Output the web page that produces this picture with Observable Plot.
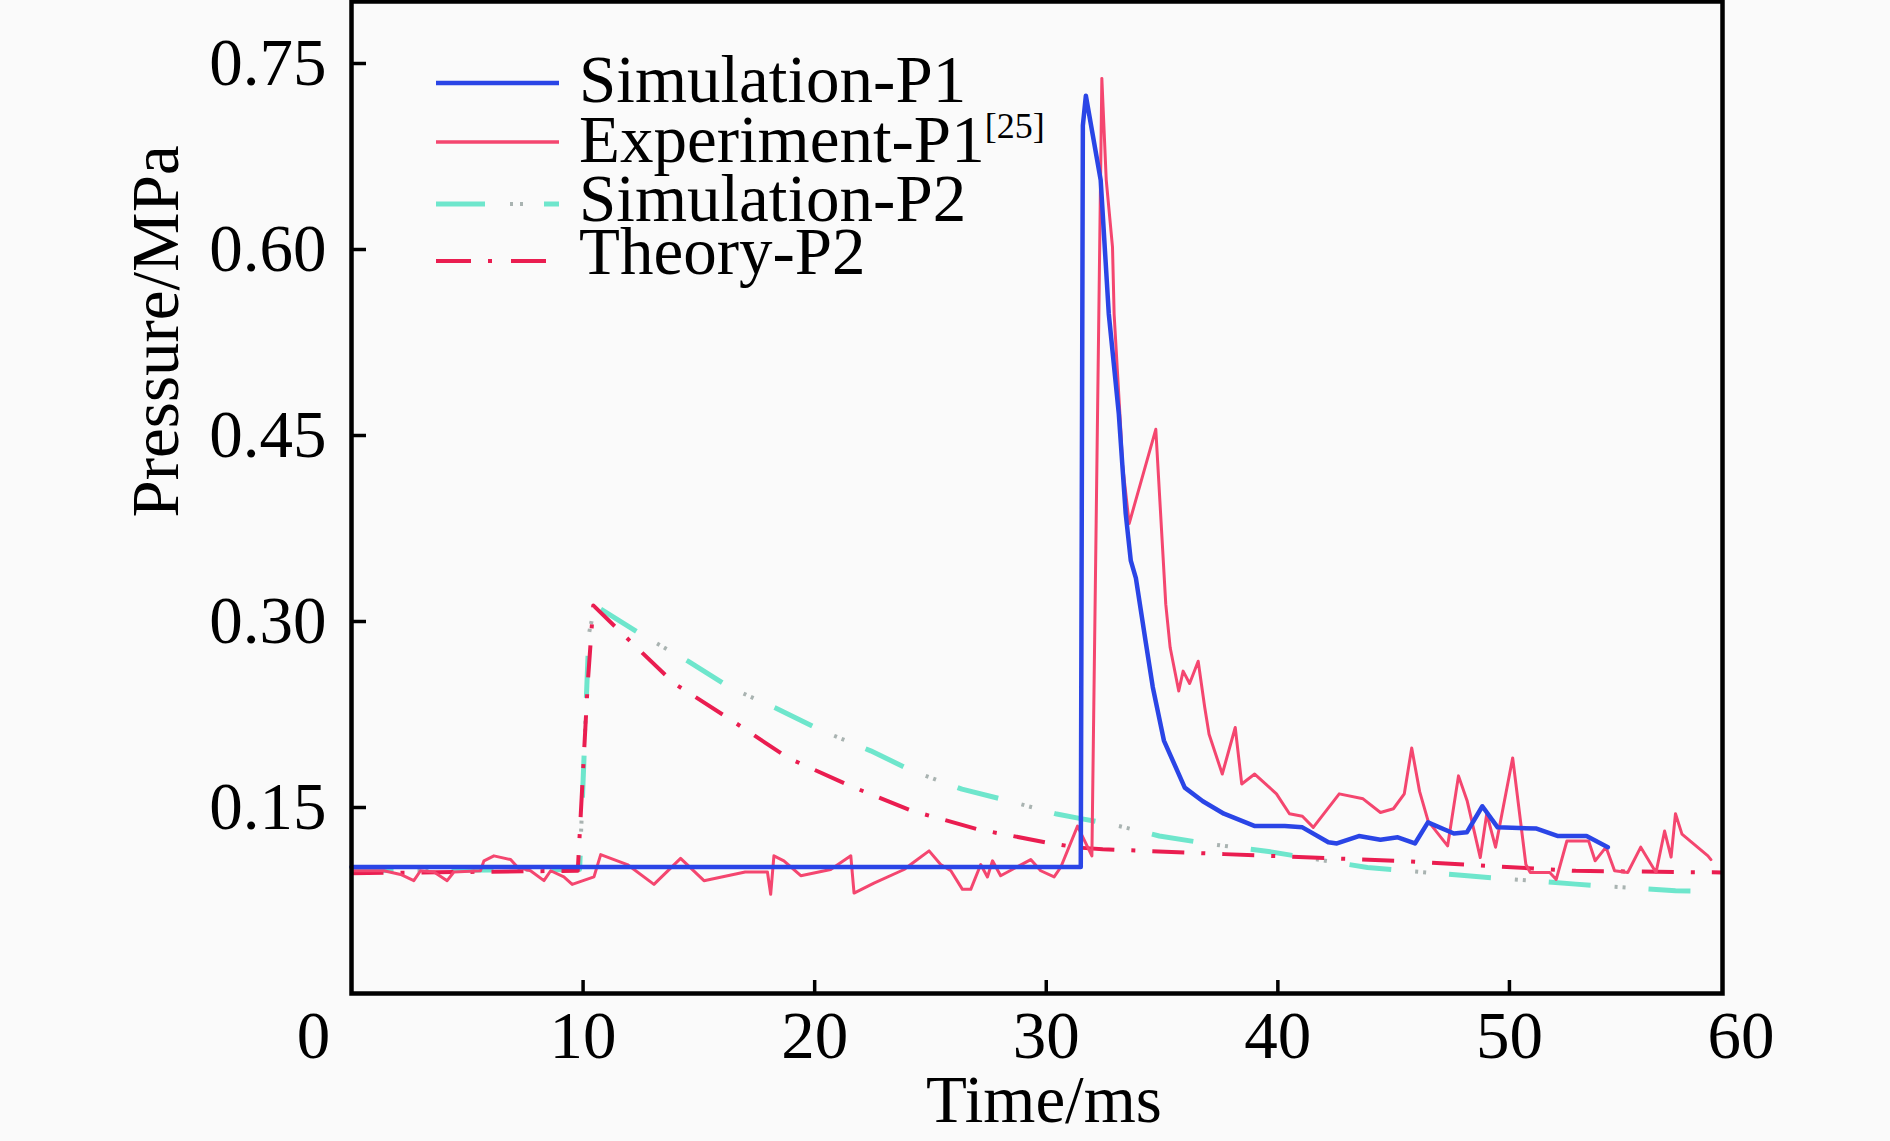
<!DOCTYPE html>
<html>
<head>
<meta charset="utf-8">
<script src="https://cdn.jsdelivr.net/npm/d3@7"></script>
<script src="https://cdn.jsdelivr.net/npm/@observablehq/plot@0.6"></script>
<style>
  html, body { margin: 0; padding: 0; background: #fafafa; overflow: hidden; }
  #chart { position: relative; width: 1890px; height: 1141px; }
</style>
</head>
<body>
<div id="chart"></div>
<script>
// ---------- data ----------
const simP1Time = [0, 31.49, 31.58, 31.71, 32.35, 32.70, 33.13, 33.43, 33.65, 33.87, 34.29, 34.60, 35.08, 35.98, 36.76, 37.67, 39.01, 40.30, 41.06, 42.18, 42.55, 43.50, 44.43, 45.18, 45.92, 46.48, 47.60, 48.16, 48.83, 49.49, 51.17, 52.10, 53.33, 54.25];
const simP1Pressure = [0.102, 0.102, 0.700, 0.724, 0.656, 0.548, 0.468, 0.387, 0.349, 0.335, 0.284, 0.247, 0.204, 0.166, 0.155, 0.145, 0.135, 0.135, 0.134, 0.122, 0.121, 0.127, 0.124, 0.126, 0.121, 0.138, 0.129, 0.130, 0.151, 0.134, 0.133, 0.127, 0.127, 0.118];

const expP1Time = [0, 1.40, 2.12, 2.69, 2.98, 3.56, 4.13, 4.42, 5.57, 5.72, 6.15, 6.87, 7.16, 7.73, 8.31, 8.60, 9.17, 9.53, 10.47, 10.76, 11.91, 13.06, 14.21, 15.22, 17.00, 17.96, 18.10, 18.24, 18.67, 19.40, 20.69, 21.56, 21.70, 22.56, 23.86, 24.29, 24.94, 25.44, 25.88, 26.38, 26.74, 27.17, 27.46, 27.68, 28.03, 29.33, 29.76, 30.34, 30.63, 31.35, 31.97, 32.40, 32.59, 32.86, 32.93, 33.22, 33.29, 33.58, 34.73, 35.16, 35.35, 35.72, 35.91, 36.19, 36.56, 36.84, 37.03, 37.60, 38.16, 38.44, 39.00, 39.94, 40.50, 41.06, 41.53, 42.65, 43.68, 44.43, 44.99, 45.46, 45.78, 46.12, 46.49, 47.33, 47.80, 48.18, 48.74, 49.02, 49.40, 50.14, 50.71, 50.90, 51.74, 52.02, 52.48, 53.42, 53.70, 54.17, 54.54, 55.11, 55.67, 56.33, 56.70, 56.98, 57.17, 57.45, 58.57, 58.70];
const expP1Pressure = [0.099, 0.099, 0.096, 0.091, 0.099, 0.098, 0.091, 0.098, 0.099, 0.107, 0.111, 0.108, 0.102, 0.099, 0.091, 0.099, 0.094, 0.088, 0.094, 0.112, 0.104, 0.088, 0.109, 0.091, 0.098, 0.098, 0.080, 0.111, 0.107, 0.095, 0.100, 0.111, 0.081, 0.089, 0.100, 0.106, 0.115, 0.104, 0.099, 0.084, 0.084, 0.104, 0.094, 0.107, 0.095, 0.108, 0.099, 0.094, 0.102, 0.135, 0.111, 0.738, 0.656, 0.602, 0.548, 0.454, 0.427, 0.379, 0.455, 0.314, 0.279, 0.244, 0.260, 0.250, 0.268, 0.231, 0.209, 0.177, 0.2145, 0.169, 0.177, 0.161, 0.145, 0.143, 0.134, 0.161, 0.157, 0.146, 0.149, 0.161, 0.198, 0.163, 0.139, 0.119, 0.1755, 0.155, 0.1096, 0.145, 0.118, 0.190, 0.104, 0.0976, 0.0976, 0.092, 0.123, 0.123, 0.107, 0.118, 0.099, 0.0976, 0.118, 0.0976, 0.131, 0.110, 0.145, 0.1285, 0.111, 0.108];

const simP2Time = [0, 9.85, 10.25, 10.51, 12.60, 14.53, 16.32, 18.40, 20.33, 22.42, 24.20, 26.36, 28.37, 30.45, 31.49, 32.82, 34.88, 37.12, 39.60, 43.87, 48.18, 52.86, 57.17, 58.20];
const simP2Pressure = [0.099, 0.100, 0.290, 0.313, 0.2885, 0.268, 0.247, 0.2295, 0.2118, 0.1957, 0.1796, 0.1648, 0.1554, 0.1447, 0.141, 0.1366, 0.127, 0.1204, 0.1145, 0.1016, 0.0949, 0.0882, 0.0828, 0.0825];

const theoryP2Time = [0, 9.77, 10.20, 10.44, 12.15, 13.94, 16.32, 18.85, 21.52, 24.20, 27.03, 30.00, 31.34, 32.44, 37.69, 45.18, 52.86, 59.20];
const theoryP2Pressure = [0.097, 0.099, 0.250, 0.313, 0.282, 0.250, 0.2215, 0.190, 0.1675, 0.1473, 0.1325, 0.1218, 0.1177, 0.1164, 0.1124, 0.107, 0.0989, 0.0976];

const xTicks = [10, 20, 30, 40, 50];
const xTickLabels = [10, 20, 30, 40, 50, 60];
const yTicks = [0.15, 0.30, 0.45, 0.60, 0.75];
const seriesNames = ["Simulation-P1", "Experiment-P1", "Simulation-P2", "Theory-P2"];
const expRef = "[25]";
const xTitle = "Time/ms";
const yTitle = "Pressure/MPa";

// ---------- layout / style ----------
const W = 1890, H = 1141;
const mL = 351, mR = 168, mT = 1, mB = 148;
const frameW = W - mL - mR, frameH = H - mT - mB;
const FONT = "'Liberation Serif', 'DejaVu Serif', 'Times New Roman', serif";
const FS = 67;
const C_BLUE = "#2a45e6", C_PINK = "#f4466f", C_CYAN = "#6ee6cc", C_GREY = "#a9b3b1", C_RED = "#ea1d50";
const CYAN_DASH = "42,58", GREY_DOTS = "0,66,3,5,3,23", RED_DASH = "32,17,4,17";

const rows = (t, p) => t.map((x, i) => ({t: x, p: p[i]}));
const simP1 = rows(simP1Time, simP1Pressure);
const expP1 = rows(expP1Time, expP1Pressure);
const simP2 = rows(simP2Time, simP2Pressure);
const theoryP2 = rows(theoryP2Time, theoryP2Pressure);

const chart = Plot.plot({
  width: W, height: H,
  marginLeft: mL, marginRight: mR, marginTop: mT, marginBottom: mB,
  x: {domain: [0, 59.2], axis: null},
  y: {domain: [0, 0.8], axis: null},
  style: {background: "transparent", fontFamily: FONT, color: "black", overflow: "visible"},
  marks: [
    Plot.line(simP2, {x: "t", y: "p", stroke: C_CYAN, strokeWidth: 5, strokeDasharray: CYAN_DASH, strokeLinecap: "butt"}),
    Plot.line(simP2, {x: "t", y: "p", stroke: C_GREY, strokeWidth: 4, strokeDasharray: GREY_DOTS, strokeLinecap: "butt"}),
    Plot.line(theoryP2, {x: "t", y: "p", stroke: C_RED, strokeWidth: 4, strokeDasharray: RED_DASH, strokeLinecap: "butt"}),
    Plot.line(expP1, {x: "t", y: "p", stroke: C_PINK, strokeWidth: 3}),
    Plot.line(simP1, {x: "t", y: "p", stroke: C_BLUE, strokeWidth: 4.5}),
    Plot.tickX(xTicks, {x: d => d, stroke: "black", strokeWidth: 3.5, insetTop: frameH - 13}),
    Plot.tickY(yTicks, {y: d => d, stroke: "black", strokeWidth: 3.5, insetRight: frameW - 15}),
    Plot.frame({stroke: "black", strokeWidth: 4.5}),
    Plot.text([0], {x: d => d, text: d => String(d), frameAnchor: "bottom", lineAnchor: "bottom", dy: 64, dx: -38, fontSize: FS, fill: "black"}),
    Plot.text(xTickLabels, {x: d => d, text: d => String(d), frameAnchor: "bottom", lineAnchor: "bottom", dy: 64, fontSize: FS, fill: "black"}),
    Plot.text(yTicks, {y: d => d, text: d => d.toFixed(2), frameAnchor: "left", textAnchor: "end", dx: -25, fontSize: FS, fill: "black"}),
    Plot.text([xTitle], {frameAnchor: "bottom", lineAnchor: "bottom", dx: 7, dy: 128, fontSize: FS, fill: "black"}),
    Plot.text([yTitle], {frameAnchor: "left", rotate: -90, dx: -195, dy: 20, fontSize: FS, fill: "black"})
  ]
});
document.getElementById("chart").appendChild(chart);

// ---------- legend (inside the frame, top-left) ----------
const legend = [
  {name: seriesNames[0], lineY: 83, textY: 102, layers: [{stroke: C_BLUE, w: 4.5, dash: null}]},
  {name: seriesNames[1], lineY: 142, textY: 162, layers: [{stroke: C_PINK, w: 3.5, dash: null}], sup: expRef},
  {name: seriesNames[2], lineY: 204, textY: 221, layers: [{stroke: C_CYAN, w: 5, dash: "49,59"}, {stroke: C_GREY, w: 4, dash: "0,74,3,7,3,200"}]},
  {name: seriesNames[3], lineY: 261, textY: 274, layers: [{stroke: C_RED, w: 4, dash: "35,17,4,19"}]}
];
const svg = d3.select(chart);
const g = svg.append("g")
  .attr("font-family", FONT).attr("font-size", FS).attr("fill", "black")
  .attr("text-anchor", "start");
legend.forEach(item => {
  item.layers.forEach(l => {
    const ln = g.append("line").attr("x1", 436).attr("x2", 559).attr("y1", item.lineY).attr("y2", item.lineY)
      .attr("stroke", l.stroke).attr("stroke-width", l.w).attr("stroke-linecap", "butt");
    if (l.dash) ln.attr("stroke-dasharray", l.dash);
  });
  const t = g.append("text").attr("x", 579).attr("y", item.textY).attr("text-anchor", "start").text(item.name);
  if (item.sup) t.append("tspan").attr("font-size", 36).attr("dy", -24).text(item.sup);
});
</script>
</body>
</html>
